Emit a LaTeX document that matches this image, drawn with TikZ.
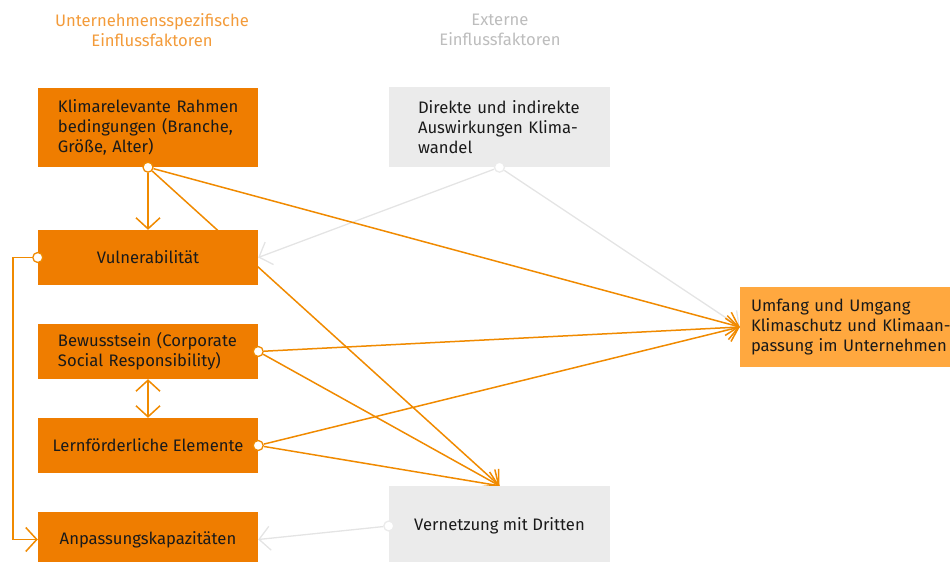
\documentclass[tikz,border=0pt]{standalone}
\usepackage{fontspec}
\setmainfont{Fira Sans}
\definecolor{orangebox}{HTML}{EF7D00}
\definecolor{orangelight}{HTML}{FFA83F}
\definecolor{orangeline}{HTML}{F08A00}
\definecolor{orangehead}{HTML}{F39B3A}
\definecolor{greybox}{HTML}{EBEBEB}
\definecolor{greyline}{HTML}{E4E4E4}
\definecolor{greyhead}{HTML}{BDBDBD}
\definecolor{textdark}{HTML}{1A1A1A}
\usetikzlibrary{arrows.meta,backgrounds}

\begin{document}
\begin{tikzpicture}[x=1bp,y=-1bp,>={Straight Barb[length=11bp,width=24bp]},
  every node/.style={font=\fontsize{16.7}{20}\selectfont,text=textdark},
  factor/.style={fill=orangebox,minimum width=220bp,minimum height=55bp,inner sep=0pt},
  external/.style={fill=greybox,minimum width=221bp,minimum height=80bp,inner sep=0pt},
  dot/.style={circle,draw=#1,fill=white,line width=1.3bp,minimum size=10bp,inner sep=0pt},
  link/.style={->,orangeline,line width=1.5bp},
  glink/.style={->,greyline,line width=1.3bp},
  heading/.style={align=center}]
\useasboundingbox (0,0) rectangle (950,562);
\node[heading,text=orangehead] (H1) at (152,30) {Unternehmensspezifische\\Einflussfaktoren};
\node[heading,text=greyhead] (H2) at (500,30) {Externe\\Einflussfaktoren};
\node[factor,minimum height=79bp,text width=180bp,align=left] (R) at (148,127.5) {\mbox{Klimarelevante Rahmen}\\\mbox{bedingungen (Branche,}\\\mbox{Größe, Alter)}};
\node[factor] (V) at (148,257.5) {Vulnerabilität};
\node[factor,text width=180bp,align=left] (B) at (148,351.5) {\mbox{Bewusstsein (Corporate}\\\mbox{Social Responsibility)}};
\node[factor] (L) at (148,445.5) {Lernförderliche Elemente};
\node[factor] (A) at (148,539.5) {Anpassungskapazitäten};
\node[external,text width=163bp,align=left] (D) at (499.5,127) {\mbox{Direkte und indirekte}\\\mbox{Auswirkungen Klima-}\\wandel};
\node[external] (N) at (499.5,526) {Vernetzung mit Dritten};
\node[fill=orangelight,minimum width=220bp,minimum height=80bp,inner sep=0pt,text width=198bp,align=left] (U) at (850,327) {\mbox{Umfang und Umgang}\\\mbox{Klimaschutz und Klimaan-}\\\mbox{passung im Unternehmen}};
\node[dot=orangeline] (R1) at (R.south) {};
\node[dot=orangeline] (V1) at (V.west) {};
\node[dot=orangeline] (B1) at (B.east) {};
\node[dot=orangeline] (L1) at (L.east) {};
\node[dot=greybox] (D1) at (D.south) {};
\node[dot=greybox] (N1) at (N.west) {};
\begin{scope}[on background layer]
\draw[glink] (D1) -- (V.east);
\draw[glink] (D1) -- (U.west);
\draw[glink] (N1) -- (A.east);
\draw[link] (R1) -- (V.north);
\draw[link] (R1) -- (N.north);
\draw[link] (R1) -- (U.west);
\draw[link] (B1) -- (U.west);
\draw[link] (B1) -- (N.north);
\draw[link] (L1) -- (U.west);
\draw[link] (L1) -- (N.north);
\draw[link,<->] (B.south) -- (L.north);
\draw[link] (V1) -- ++(-25,0) |- (A.west);
\end{scope}
\end{tikzpicture}
\end{document}
